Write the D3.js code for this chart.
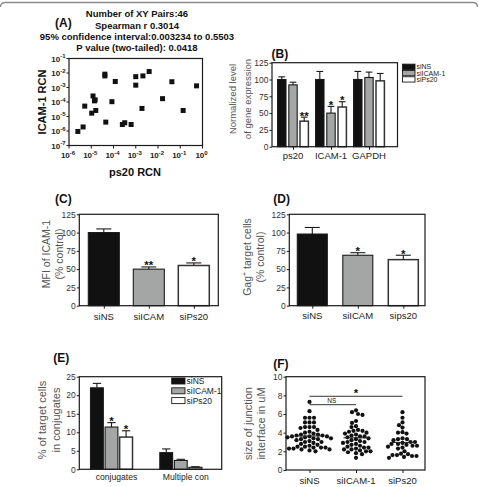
<!DOCTYPE html>
<meta charset="utf-8">
<style>
body { margin: 0; background: #fff; }
svg { display: block; font-family: "Liberation Sans", Arial, sans-serif; }
.tk { font-size: 8.5px; fill: #333; }
.cat { font-size: 9.5px; fill: #222; }
.ytitle { fill: #555; }
.letter { font-size: 12px; font-weight: bold; fill: #111; }
.atitle { font-size: 9.5px; font-weight: bold; fill: #111; }
.star { font-size: 11.5px; font-weight: bold; fill: #111; }
</style>
<body>
<script src="https://cdn.jsdelivr.net/npm/d3@7"></script>
<script>

// ---- data ----
// (A) ps20 RCN vs ICAM-1 RCN
var aPs20 = [2.5e-6, 4.3e-6, 5.1e-6, 1.05e-5, 1.2e-5, 1.4e-5, 1.5e-5, 1.6e-5, 4.1e-5, 4.1e-5, 4.5e-5, 8.5e-5, 1.2e-4,
             2.5e-4, 3.2e-4, 6.2e-4, 1.0e-3, 1.0e-3, 2.1e-3, 4.0e-3, 1.9e-3, 1.6e-2, 4.2e-2, 0.135, 0.54];
var aIcam = [9.3e-7, 1.9e-6, 5.2e-5, 1.7e-5, 2.6e-4, 1.2e-4, 1.4e-4, 2.6e-5, 8.3e-3, 6.3e-3, 4.1e-6, 1.05e-4, 2.6e-3,
             2.8e-6, 3.7e-6, 2.8e-6, 5.6e-3, 1.45e-3, 6.3e-3, 1.26e-2, 3.6e-5, 1.7e-4, 2.5e-3, 2.6e-5, 1.3e-3];
var aTitle = ["Number of XY Pairs:46", "Spearman r 0.3014", "95% confidence interval:0.003234 to 0.5503", "P value (two-tailed): 0.0418"];
var aExps = [-6, -5, -4, -3, -2, -1, 0];
var aYExps = [-7, -6, -5, -4, -3, -2, -1];

// (B) normalized gene expression
var bGroups = ["ps20", "ICAM-1", "GAPDH"];
var bSeries = ["siNS", "siICAM-1", "siPs20"];
var bMean = [[100, 92, 38], [100, 50, 59], [100, 103, 98]];
var bErr = [[4, 4, 6], [12, 10, 8], [12, 8, 11]];
var bStars = [["", "", "**"], ["", "*", "*"], ["", "", ""]];

// (C) MFI of ICAM-1
var cCats = ["siNS", "siICAM", "siPs20"];
var cMean = [100, 50, 55];
var cErr = [5, 3, 3.5];
var cStars = ["", "**", "*"];

// (D) Gag+ target cells
var dCats = ["siNS", "siICAM", "sips20"];
var dMean = [98, 69, 63];
var dErr = [9, 3.5, 6];
var dStars = ["", "*", "*"];

// (E) % of target cells in conjugates
var eGroups = ["conjugates", "Multiple con"];
var eSeries = ["siNS", "siICAM-1", "siPs20"];
var eMean = [[22, 11.4, 8.7], [4.5, 2.4, 0.5]];
var eErr = [[1.2, 1.2, 1.7], [1.0, 0.3, 0.2]];
var eStars = [["", "*", "*"], ["", "", ""]];

// (F) size of junction interface
var fCats = ["siNS", "siICAM-1", "siPs20"];
var fNS = [7.3, 6.3, 5.6, 5.6, 5.6, 5.1, 5.1, 5.1, 4.6, 4.6, 4.6, 4.5, 4.3, 4.1, 4.0, 3.9, 3.8, 3.8, 3.7, 3.7, 3.6,
           3.6, 3.6, 3.5, 3.5, 3.4, 3.4, 3.3, 3.3, 3.2, 3.1, 3.0, 3.0, 2.9, 2.8, 2.7, 2.6, 2.5, 2.5, 2.4, 2.4,
           2.4, 2.3, 2.3, 2.2, 2.2, 2.1, 2.0];
var fICAM = [6.4, 6.2, 6.0, 5.9, 5.25, 5.05, 4.7, 4.6, 4.3, 4.2, 4.2, 4.1, 4.0, 3.9, 3.8, 3.7, 3.6, 3.6, 3.5, 3.4,
             3.3, 3.2, 3.1, 3.0, 3.0, 2.9, 2.8, 2.7, 2.6, 2.5, 2.4, 2.4, 2.3, 2.2, 2.2, 2.1, 2.0, 2.0, 1.9, 1.8,
             1.7, 1.3];
var fPs20 = [6.2, 5.6, 5.1, 4.8, 4.55, 4.05, 4.0, 3.9, 3.4, 3.3, 3.3, 3.2, 3.0, 3.0, 2.9, 2.8, 2.8, 2.7, 2.6, 2.6,
             2.5, 2.4, 2.3, 2.0, 1.75, 1.7, 1.6, 1.6, 1.5, 1.5, 1.4, 1.3];
var fMedian = [3.65, 3.45, 2.95];

var fills = ["#111", "#a3a6a4", "#fff"];

var svg = d3.select("body").append("svg")
	.attr("width", 479)
	.attr("height", 487);

// thin frame edge along the top
svg.append("path")
	.attr("d", "M0.5,7 Q0.5,2.5 5,2.5 L473,2.5 Q477.5,2.5 477.5,7")
	.attr("fill", "none")
	.attr("stroke", "#8c8c8c")
	.attr("stroke-width", 1.3);

function box(x0, x1, y0, y1) {
	svg.append("rect")
		.attr("x", x0).attr("y", y0)
		.attr("width", x1 - x0).attr("height", y1 - y0)
		.attr("fill", "none")
		.attr("stroke", "#1a1a1a")
		.attr("stroke-width", 1.2);
}

function yAxis(scale, x, ticks) {
	var g = svg.append("g")
		.attr("transform", "translate(" + x + ",0)")
		.call(d3.axisLeft(scale).tickValues(ticks).tickSize(2.5).tickPadding(1));
	g.attr("font-family", null).attr("font-size", null);
	g.select(".domain").remove();
	g.selectAll("line").attr("stroke", "#1a1a1a");
	g.selectAll("text").attr("class", "tk");
	return g;
}

function xCats(scale, y, labels, baseline, size) {
	var g = svg.append("g")
		.attr("transform", "translate(0," + y + ")")
		.call(d3.axisBottom(scale).tickSize(3).tickFormat(""));
	g.select(".domain").remove();
	g.selectAll("line").attr("stroke", "#1a1a1a");
	labels.forEach(function(l) {
		svg.append("text").attr("class", "cat")
			.style("font-size", (size || 9.5) + "px")
			.attr("x", scale(l)).attr("y", baseline)
			.attr("text-anchor", "middle").text(l);
	});
}

function yTitle(lines, xs, cy, size) {
	lines.forEach(function(t, i) {
		svg.append("text").attr("class", "ytitle")
			.style("font-size", size + "px")
			.attr("transform", "translate(" + xs[i] + "," + cy + ") rotate(-90)")
			.attr("text-anchor", "middle")
			.attr("dy", "0.35em")
			.text(t);
	});
}

function letter(t, x, y) {
	svg.append("text").attr("class", "letter").attr("x", x).attr("y", y).attr("dy", "0.35em").text(t);
}

// one bar with its upper error bar and star
function bar(cx, w, y, v, e, fill, star, capW) {
	var top = y(v), base = y(0);
	svg.append("rect")
		.attr("x", cx - w / 2).attr("y", top)
		.attr("width", w).attr("height", base - top)
		.attr("fill", fill)
		.attr("stroke", fill == "#fff" ? "#333" : "#1a1a1a")
		.attr("stroke-width", fill == "#fff" ? 1.5 : 1.1);
	var et = y(v + e);
	svg.append("line").attr("x1", cx).attr("x2", cx).attr("y1", top).attr("y2", et)
		.attr("stroke", "#1a1a1a").attr("stroke-width", 1.1);
	svg.append("line").attr("x1", cx - capW / 2).attr("x2", cx + capW / 2).attr("y1", et).attr("y2", et)
		.attr("stroke", "#1a1a1a").attr("stroke-width", 1.1);
	if (star) {
		svg.append("text").attr("class", "star")
			.attr("x", cx).attr("y", et + 2.5)
			.attr("text-anchor", "middle").text(star);
	}
}

function legend(x, y0, step, bw, bh, size, names) {
	names.forEach(function(n, i) {
		var yy = y0 + i * step;
		svg.append("rect").attr("x", x).attr("y", yy - bh / 2)
			.attr("width", bw).attr("height", bh)
			.attr("fill", fills[i]).attr("stroke", "#1a1a1a").attr("stroke-width", 0.9);
		svg.append("text").attr("x", x + bw + 1.5).attr("y", yy).attr("dy", "0.35em")
			.style("font-size", size + "px").attr("fill", "#222").text(n);
	});
}

/* ------- (A) scatter ------- */
var ax = d3.scaleLog().domain([1e-6, 1]).range([69, 202.5]);
var ay = d3.scaleLog().domain([1e-7, 1e-1]).range([145.5, 58.5]);

aTitle.forEach(function(t, i) {
	svg.append("text").attr("class", "atitle")
		.attr("x", 137).attr("y", 14 + i * 11.2).attr("dy", "0.35em")
		.attr("text-anchor", "middle").text(t);
});
letter("(A)", 55, 23);

box(69, 202.5, 58.5, 145.5);

aExps.forEach(function(p) {
	var x = ax(Math.pow(10, p));
	svg.append("line").attr("x1", x).attr("x2", x).attr("y1", 145.5).attr("y2", 148.5).attr("stroke", "#1a1a1a");
	var t = svg.append("text").attr("x", x - 1).attr("y", 158)
		.attr("text-anchor", "middle").attr("fill", "#222")
		.style("font-size", "8px").style("font-weight", "bold");
	t.append("tspan").text("10");
	t.append("tspan").attr("dy", -3.5).style("font-size", "6px").text(p);
});
aYExps.forEach(function(p) {
	var y = ay(Math.pow(10, p));
	svg.append("line").attr("x1", 66.5).attr("x2", 69).attr("y1", y).attr("y2", y).attr("stroke", "#1a1a1a");
	var t = svg.append("text").attr("x", 65.5).attr("y", y + 3)
		.attr("text-anchor", "end").attr("fill", "#222")
		.style("font-size", "8px").style("font-weight", "bold");
	t.append("tspan").text("10");
	t.append("tspan").attr("dy", -3.5).style("font-size", "6px").text(p);
});

svg.selectAll("rect.pt")
	.data(aPs20)
	.enter().append("rect")
	.attr("class", "pt")
	.attr("x", function(d) { return ax(d) - 2.5; })
	.attr("y", function(d, i) { return ay(aIcam[i]) - 2.5; })
	.attr("width", 5).attr("height", 5)
	.attr("fill", "#111");

svg.append("text")
	.attr("transform", "translate(42,102) rotate(-90)")
	.attr("text-anchor", "middle").attr("dy", "0.35em")
	.style("font-size", "11px").style("font-weight", "bold").attr("fill", "#111")
	.text("ICAM-1 RCN");
svg.append("text")
	.attr("x", 135).attr("y", 172).attr("dy", "0.35em")
	.attr("text-anchor", "middle")
	.style("font-size", "11px").style("font-weight", "bold").attr("fill", "#111")
	.text("ps20 RCN");

/* ------- (B) gene expression ------- */
var by = d3.scaleLinear().domain([0, 125]).range([146.7, 62.7]);
var bx0 = d3.scalePoint().domain(bGroups).range([293, 369]);
var bx1 = d3.scaleBand().domain(bSeries).range([-15.4, 15.4]).paddingInner(0.25);

letter("(B)", 271.5, 53.5);
bGroups.forEach(function(g, gi) {
	bSeries.forEach(function(s, si) {
		var cx = bx0(g) + bx1(s) + bx1.bandwidth() / 2;
		bar(cx, bx1.bandwidth(), by, bMean[gi][si], bErr[gi][si], fills[si], bStars[gi][si], bx1.bandwidth() * 0.8);
	});
});
box(272, 397.5, 62.7, 146.7);
yAxis(by, 272, [0, 25, 50, 75, 100, 125]);
xCats(bx0, 146.7, bGroups, 159);
yTitle(["Normalized level", "of gene expression"], [233, 247.5], 99, 9.5);
legend(402.5, 66.8, 6.3, 12.5, 5.3, 7, bSeries);

/* ------- (C) MFI ------- */
var cy = d3.scaleLinear().domain([0, 125]).range([305.7, 214.3]);
var cx = d3.scalePoint().domain(cCats).range([103.8, 193.8]);
letter("(C)", 55, 198.5);
cCats.forEach(function(c, i) {
	bar(cx(c), 31, cy, cMean[i], cErr[i], fills[i], cStars[i], 15);
});
box(79.3, 218.3, 214.3, 305.7);
yAxis(cy, 79.3, [0, 25, 50, 75, 100, 125]);
xCats(cx, 305.7, cCats, 320);
yTitle(["MFI of ICAM-1", "(% control)"], [46.5, 59.5], 254, 10.5);

/* ------- (D) Gag+ ------- */
var dy = d3.scaleLinear().domain([0, 125]).range([305.7, 214.3]);
var dx = d3.scalePoint().domain(dCats).range([312.3, 403.3]);
letter("(D)", 273.3, 198.5);
dCats.forEach(function(c, i) {
	bar(dx(c), 30, dy, dMean[i], dErr[i], fills[i], dStars[i], 15);
});
box(289.3, 425, 214.3, 305.7);
yAxis(dy, 289.3, [0, 25, 50, 75, 100, 125]);
xCats(dx, 305.7, dCats, 319);
var gt = svg.append("text").attr("class", "ytitle")
	.style("font-size", "10.5px")
	.attr("transform", "translate(247,257) rotate(-90)")
	.attr("text-anchor", "middle").attr("dy", "0.35em");
gt.append("tspan").text("Gag");
gt.append("tspan").attr("dy", -4).style("font-size", "7px").text("+");
gt.append("tspan").attr("dy", 4).text(" target cells");
yTitle(["(% control)"], [260], 257, 10.5);

/* ------- (E) conjugates ------- */
var ey = d3.scaleLinear().domain([0, 25]).range([469.3, 376.7]);
var ex0 = d3.scalePoint().domain(eGroups).range([111.5, 180.8]);
var ex1 = d3.scaleBand().domain(eSeries).range([-21, 21]).paddingInner(0.12);
letter("(E)", 53.3, 357.5);
eGroups.forEach(function(g, gi) {
	eSeries.forEach(function(s, si) {
		var c = ex0(g) + ex1(s) + ex1.bandwidth() / 2;
		bar(c, ex1.bandwidth(), ey, eMean[gi][si], eErr[gi][si], fills[si], eStars[gi][si], ex1.bandwidth() * 0.65);
	});
});
box(79.3, 221.7, 376.7, 469.3);
yAxis(ey, 79.3, [0, 5, 10, 15, 20, 25]);
eGroups.forEach(function(g) {
	svg.append("text").attr("class", "cat")
		.style("font-size", "8.6px")
		.attr("x", ex0(g) + 5).attr("y", 480)
		.attr("text-anchor", "middle").text(g);
});
yTitle(["% of target cells", "in conjugates"], [42, 56], 420, 11);
legend(171.7, 381, 9.8, 13.3, 6, 8.5, eSeries);

/* ------- (F) junction size ------- */
var fy = d3.scaleLinear().domain([0, 10]).range([470, 376.7]);
var fx = d3.scalePoint().domain(fCats).range([309.5, 402.5]);
letter("(F)", 273.3, 363.3);
box(286, 425, 376.7, 470);
yAxis(fy, 286, [0, 2, 4, 6, 8, 10]);
xCats(fx, 470, fCats, 483.5);
yTitle(["size of junction", "interface in uM"], [248, 261.5], 423.5, 11);

// beeswarm: each dot goes to the nearest free spot beside the column centre
function swarm(values, cx, r) {
	var placed = [];
	values.slice().sort(function(a, b) { return b - a; }).forEach(function(v) {
		var y = fy(v), k = 0, x;
		while (true) {
			var off = (k % 2 == 0 ? 1 : -1) * Math.ceil(k / 2) * 0.5;
			x = cx + off;
			var hit = placed.some(function(p) {
				return (p[0] - x) * (p[0] - x) + (p[1] - y) * (p[1] - y) < (2 * r) * (2 * r);
			});
			if (!hit) break;
			k++;
		}
		placed.push([x, y]);
	});
	return placed;
}

[fNS, fICAM, fPs20].forEach(function(vals, i) {
	var pts = swarm(vals, fx(fCats[i]), 2.1);
	svg.append("g").selectAll("circle")
		.data(pts)
		.enter().append("circle")
		.attr("cx", function(d) { return d[0]; })
		.attr("cy", function(d) { return d[1]; })
		.attr("r", 2.1)
		.attr("fill", "#111");
	svg.append("line")
		.attr("x1", fx(fCats[i]) - 12.5).attr("x2", fx(fCats[i]) + 12.5)
		.attr("y1", fy(fMedian[i])).attr("y2", fy(fMedian[i]))
		.attr("stroke", "#222").attr("stroke-width", 1);
});

// significance brackets
svg.append("line").attr("x1", fx("siNS")).attr("x2", fx("siPs20"))
	.attr("y1", fy(7.9)).attr("y2", fy(7.9)).attr("stroke", "#333").attr("stroke-width", 1);
svg.append("text").attr("class", "star").attr("x", (fx("siNS") + fx("siPs20")) / 2).attr("y", fy(7.9) + 1)
	.attr("text-anchor", "middle").text("*");
svg.append("line").attr("x1", fx("siNS")).attr("x2", fx("siICAM-1"))
	.attr("y1", fy(7.0)).attr("y2", fy(7.0)).attr("stroke", "#333").attr("stroke-width", 1);
svg.append("text").attr("x", (fx("siNS") + fx("siICAM-1")) / 2 - 1).attr("y", fy(7.0) - 1.5)
	.attr("text-anchor", "middle").style("font-size", "6.5px").attr("fill", "#222").text("NS");

</script>
</body>
